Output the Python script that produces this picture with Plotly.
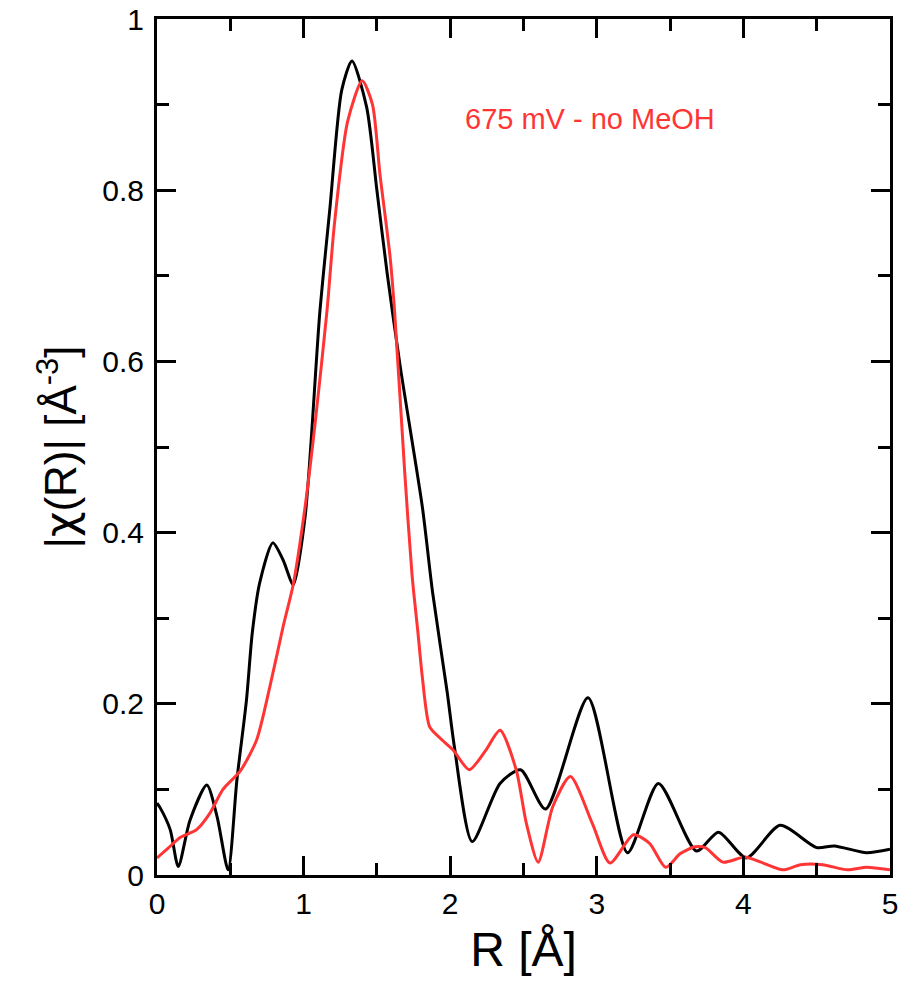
import plotly.graph_objects as go

# Black curve (R in Å, |chi(R)|)
R_black = [0.0, 0.02, 0.09, 0.145, 0.225, 0.34, 0.41, 0.485, 0.545, 0.61, 0.65, 0.70, 0.79, 0.86, 0.93,
           1.01, 1.11, 1.18, 1.26, 1.33, 1.43, 1.50, 1.57, 1.66, 1.81, 1.88, 1.98, 2.03, 2.15, 2.34, 2.48,
           2.65, 2.94, 3.21, 3.42, 3.68, 3.83, 4.02, 4.25, 4.50, 4.62, 4.84, 5.0]
chi_black = [0.084, 0.079, 0.053, 0.010, 0.064, 0.105, 0.068, 0.006, 0.111, 0.204, 0.283, 0.341, 0.388, 0.368, 0.339,
             0.418, 0.656, 0.780, 0.917, 0.951, 0.897, 0.800, 0.703, 0.593, 0.430, 0.330, 0.213, 0.148, 0.039, 0.107, 0.123,
             0.077, 0.207, 0.026, 0.107, 0.028, 0.050, 0.020, 0.058, 0.032, 0.034, 0.026, 0.030]

# Red curve
R_red = [0.0, 0.08, 0.16, 0.27, 0.36, 0.45, 0.57, 0.68, 0.77, 0.86, 0.93, 1.01, 1.08, 1.16, 1.21, 1.30, 1.40,
         1.47, 1.52, 1.59, 1.62, 1.69, 1.74, 1.78, 1.81, 1.86, 1.93, 2.02, 2.13, 2.24, 2.34, 2.45, 2.52, 2.60,
         2.70, 2.82, 2.97, 3.09, 3.25, 3.36, 3.47, 3.57, 3.67, 3.74, 3.86, 4.01, 4.12, 4.27, 4.39, 4.54, 4.71,
         4.84, 5.0]
chi_red = [0.020, 0.032, 0.044, 0.053, 0.072, 0.100, 0.122, 0.158, 0.220, 0.290, 0.340, 0.430, 0.530, 0.660, 0.760, 0.880, 0.928,
           0.900, 0.820, 0.722, 0.660, 0.470, 0.350, 0.283, 0.231, 0.173, 0.160, 0.146, 0.123, 0.145, 0.169, 0.123, 0.060, 0.015,
           0.080, 0.115, 0.060, 0.014, 0.047, 0.037, 0.009, 0.025, 0.033, 0.032, 0.015, 0.021, 0.015, 0.006, 0.012, 0.012, 0.006,
           0.009, 0.006]

x_ticks = [0, 1, 2, 3, 4, 5]
y_ticks = [0, 0.2, 0.4, 0.6, 0.8, 1]
y_ticklabels = ["0", "0.2", "0.4", "0.6", "0.8", "1"]
label_text = "675 mV - no MeOH"

RED = "#ff3535"
FONT = "Liberation Sans"

fig = go.Figure()
fig.add_trace(go.Scatter(x=R_black, y=chi_black, mode="lines",
                         line=dict(color="black", width=3, shape="spline", smoothing=0.7),
                         showlegend=False))
fig.add_trace(go.Scatter(x=R_red, y=chi_red, mode="lines",
                         line=dict(color=RED, width=3, shape="spline", smoothing=0.7),
                         showlegend=False))

axis_common = dict(showgrid=False, zeroline=False, showline=True, linecolor="black", linewidth=3,
                   mirror="ticks", ticks="inside", ticklen=19, tickwidth=3, tickcolor="black",
                   automargin=False,
                   tickfont=dict(family=FONT, size=30, color="black"))

fig.update_xaxes(range=[0, 5], tickvals=x_ticks, ticktext=[str(v) for v in x_ticks],
                 minor=dict(dtick=0.5, ticks="inside", ticklen=12, tickwidth=3, tickcolor="black"),
                 title=dict(text="R [Å]", font=dict(family=FONT, size=48, color="black"), standoff=14),
                 **axis_common)
fig.update_yaxes(range=[0, 1], tickvals=y_ticks, ticktext=y_ticklabels,
                 minor=dict(dtick=0.1, ticks="inside", ticklen=12, tickwidth=3, tickcolor="black"),
                 title=dict(text="|<span style=\"font-family:'DejaVu Sans'\">χ</span>(R)| [Å<sup>-3</sup>]",
                            font=dict(family=FONT, size=44, color="black"), standoff=12),
                 ticklabelstandoff=4,
                 **axis_common)

fig.add_annotation(x=2.09, y=0.883, xref="x", yref="y", xanchor="left", yanchor="middle",
                   text=label_text, showarrow=False,
                   font=dict(family=FONT, size=29, color=RED))

fig.update_layout(width=902, height=988, margin=dict(l=157, r=12, t=19, b=113),
                  plot_bgcolor="white", paper_bgcolor="white")

fig.write_html("out.html")
